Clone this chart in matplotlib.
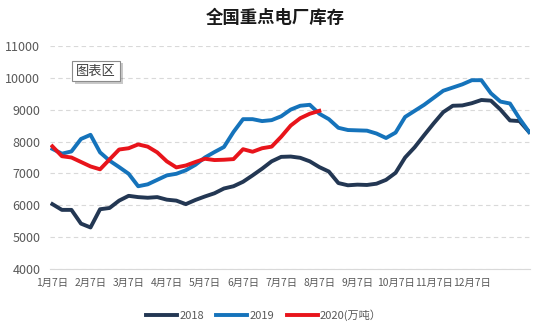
import matplotlib
matplotlib.use("Agg")
import matplotlib.pyplot as plt
import matplotlib.patheffects as pe

plt.rcParams["font.family"] = ["Noto Sans CJK SC", "DejaVu Sans"]

# weekly inventory (万吨)
inv_2018 = [6040, 5860, 5860, 5430, 5310, 5880, 5920, 6150, 6300, 6260,
            6240, 6260, 6180, 6150, 6040, 6170, 6280, 6380, 6530, 6600,
            6740, 6940, 7150, 7380, 7520, 7530, 7490, 7380, 7200, 7060,
            6700, 6630, 6650, 6640, 6680, 6800, 7020, 7500, 7820, 8200,
            8570, 8920, 9120, 9130, 9200, 9300, 9280, 9000, 8660, 8640,
            8300]
inv_2019 = [7770, 7620, 7690, 8080, 8210, 7660, 7400, 7200, 6990, 6600,
            6660, 6800, 6940, 6990, 7100, 7270, 7500, 7670, 7830, 8300,
            8700, 8700, 8640, 8670, 8790, 9000, 9120, 9150, 8870, 8700,
            8430, 8360, 8350, 8340, 8250, 8110, 8280, 8770, 8960, 9150,
            9370, 9590, 9690, 9790, 9920, 9920, 9510, 9250, 9190, 8720,
            8300]
inv_2020 = [7850, 7540, 7500, 7360, 7220, 7130, 7440, 7750, 7790, 7910,
            7840, 7660, 7380, 7190, 7250, 7360, 7460, 7420, 7430, 7450,
            7760, 7680, 7790, 7840, 8150, 8500, 8730, 8870, 8960]

tick_labels = ["1月7日", "2月7日", "3月7日", "4月7日", "5月7日", "6月7日",
               "7月7日", "8月7日", "9月7日", "10月7日", "11月7日", "12月7日"]

fig = plt.figure(figsize=(5.5, 3.35), dpi=100)
ax = fig.add_axes([50 / 550, 1 - 269.3 / 335, 480 / 550, (269.3 - 45.7) / 335])

ax.plot(range(len(inv_2018)), inv_2018, color="#233753", lw=2.8, label="2018",
        solid_joinstyle="round")
ax.plot(range(len(inv_2019)), inv_2019, color="#1573bb", lw=2.8, label="2019",
        solid_joinstyle="round")
ax.plot(range(len(inv_2020)), inv_2020, color="#e8141b", lw=2.8, label="2020(万吨）",
        solid_joinstyle="round")

ax.set_ylim(4000, 11000)
ax.set_xlim(-0.25, 50.1)
ax.set_yticks(range(4000, 11001, 1000))
ax.set_xticks([4 * i for i in range(len(tick_labels))])
ax.set_xticklabels(tick_labels)

ax.grid(axis="y", color="#d9d9d9", linestyle=(0, (4, 3)), lw=0.8)
ax.set_axisbelow(True)
for side in ("left", "right", "top"):
    ax.spines[side].set_visible(False)
ax.spines["bottom"].set_color("#d9d9d9")
ax.tick_params(axis="both", length=0, colors="#595959")
ax.tick_params(axis="y", labelsize=9, pad=7)
ax.tick_params(axis="x", labelsize=7.4, pad=6)

fig.text(0.5, 1 - 18 / 335, "全国重点电厂库存", ha="center", va="center",
         fontsize=12.5, fontweight="bold", color="#1a1a1a")

# the stray Excel "chart area" label box
t = fig.text(96 / 550, 1 - 71 / 335, "图表区", ha="center", va="center",
             fontsize=9.5, color="#404040",
             bbox=dict(boxstyle="square,pad=0.3", fc="white", ec="#8c8c8c", lw=0.8))
t.get_bbox_patch().set_path_effects([pe.withSimplePatchShadow(offset=(2, -2), alpha=0.3)])

fig.legend(loc="center", bbox_to_anchor=(264 / 550, 1 - 315 / 335), ncol=3,
           frameon=False, fontsize=8, handlelength=2.8, handletextpad=0.2,
           columnspacing=1.1, labelcolor="#595959")

fig.savefig("out.png", dpi=100)
